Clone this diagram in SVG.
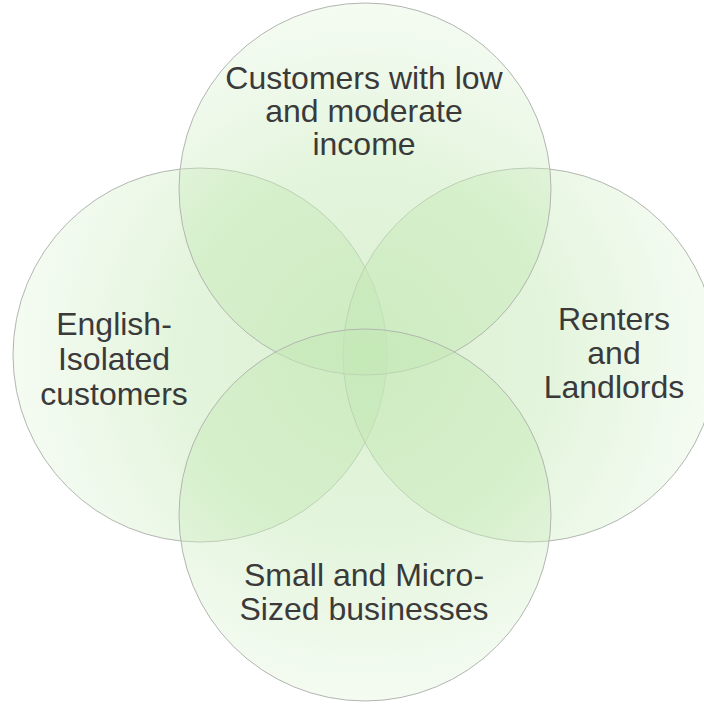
<svg xmlns="http://www.w3.org/2000/svg" width="704" height="708" viewBox="0 0 704 708">
<defs>
<radialGradient id="g" gradientUnits="userSpaceOnUse" cx="365" cy="353" r="380">
<stop offset="0" stop-color="#c4e8b6" stop-opacity="0.6"/>
<stop offset="0.5" stop-color="#c8eaba" stop-opacity="0.5"/>
<stop offset="1" stop-color="#d6f0cc" stop-opacity="0.2"/>
</radialGradient>
</defs>
<style>
.c{fill:url(#g);stroke:#b2b6b0;stroke-width:1}
.t{font-family:"Liberation Sans",Arial,sans-serif;font-size:32px;fill:#3a3a3a;text-anchor:middle}
</style>
<rect width="704" height="708" fill="#ffffff"/>
<g id="left"><circle class="c" cx="200" cy="355" r="187"/>
<text class="t" x="114" y="335">English-</text><text class="t" x="114" y="370">Isolated</text><text class="t" x="114" y="405">customers</text></g>
<g id="right"><circle class="c" cx="530" cy="355" r="187"/>
<text class="t" x="614" y="330">Renters</text><text class="t" x="614" y="364">and</text><text class="t" x="614" y="398">Landlords</text></g>
<g id="top"><circle class="c" cx="365" cy="189" r="186"/>
<text class="t" x="364" y="89">Customers with low</text><text class="t" x="364" y="122">and moderate</text><text class="t" x="364" y="155">income</text></g>
<g id="bottom"><circle class="c" cx="365" cy="515" r="186"/>
<text class="t" x="364" y="586">Small and Micro-</text><text class="t" x="364" y="620">Sized businesses</text></g>
<g id="connectors"/>
</svg>
